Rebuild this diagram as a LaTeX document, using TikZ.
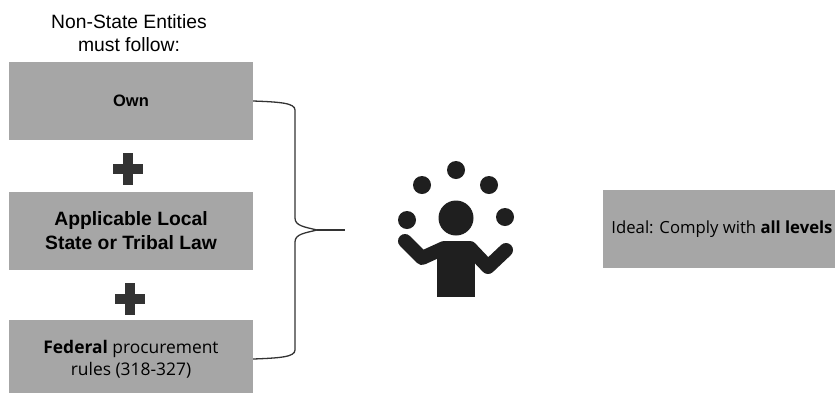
\documentclass[tikz,border=0pt]{standalone}
\usepackage{fontspec}
\setmainfont{Liberation Sans}
\newfontfamily\bodyfont{Open Sans}
\tikzset{
  lawbox/.style={fill=black!35, minimum width=244pt, minimum height=78pt, inner sep=0pt, align=center, text=black},
  jug/.style={fill=black!88},
  armline/.style={draw=black!88, line width=14pt, line cap=round, line join=round},
  bracket/.style={draw=black!80, line width=1.3pt}
}
\begin{document}
\begin{tikzpicture}[x=1pt,y=-1pt]
    \useasboundingbox (0,0) rectangle (835,392);

    % Left column
    \node [align=center, font=\fontsize{19.3}{23}\selectfont] (heading) at (129,33) {Non-State Entities\\must follow:};
    \node [lawbox, font=\fontsize{16.5}{20}\selectfont\bfseries] (own) at (131,101) {Own};
    \node [lawbox, font=\fontsize{19.3}{24}\selectfont\bfseries] (locallaw) at (131,231) {Applicable Local\\State or Tribal Law};
    \node [lawbox, font=\fontsize{17.4}{22}\selectfont\bodyfont] (federal) at (131,359) {\textbf{Federal} procurement\\rules (318-327)};

    % Plus signs between the boxes
    \foreach \cx/\cy in {128/169, 130/299} {
        \fill [black!80] (\cx-15,\cy-5) rectangle (\cx+15,\cy+5);
        \fill [black!80] (\cx-5,\cy-16) rectangle (\cx+5,\cy+16);
    }

    % Bracket
    \coordinate (join) at (317,230);
    \coordinate (tip) at (345,230);
    \draw [bracket] (own.east) .. controls (280,102) and (295,103) .. (295,110) -- (295,218)
        .. controls (295,226) and (305,227) .. (join);
    \draw [bracket] (federal.east) .. controls (280,358) and (295,357) .. (295,350) -- (295,242)
        .. controls (295,234) and (305,233) .. (join);
    \draw [bracket] (join) -- (tip);

    % Juggler
    \fill [jug] (456,218) circle (17.5);
    \foreach \bx/\by in {456/170, 422/185, 489/185, 407/220, 505/217} {
        \fill [jug] (\bx,\by) circle (9);
    }
    \fill [jug] (437,244) rectangle (475,297);
    \draw [armline] (405,241) -- (422,258) -- (444,248) -- (470,248) -- (488,267) -- (506,250);

    % Right box
    \node [lawbox, minimum width=238pt, font=\fontsize{16.7}{20}\selectfont\bodyfont] (ideal) at (722,229) {Ideal: Comply with \textbf{all levels}};
\end{tikzpicture}
\end{document}
